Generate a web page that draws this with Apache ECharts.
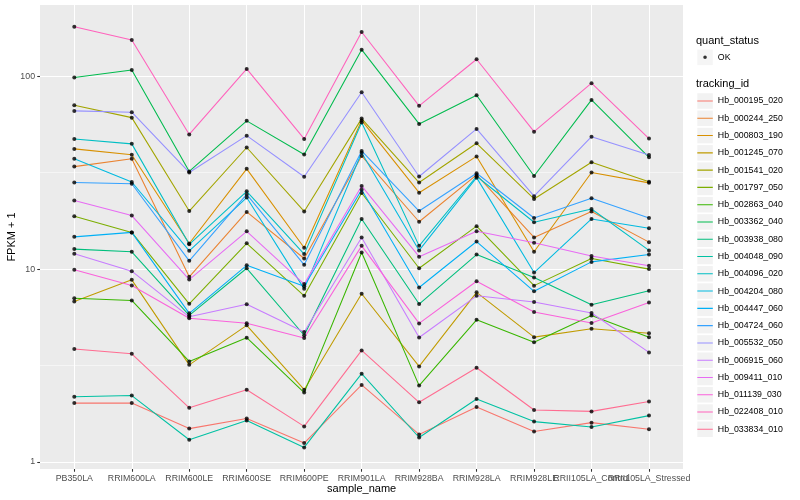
<!DOCTYPE html>
<html>
<head>
<meta charset="utf-8">
<script src="https://cdn.jsdelivr.net/npm/echarts@6/dist/echarts.min.js"></script>
<style>html,body{margin:0;padding:0;background:#fff}#c{width:800px;height:500px}</style>
</head>
<body>
<div id="c"></div>
<script>
// ---- data (FPKM + 1) ----
const sampleNames = ['PB350LA','RRIM600LA','RRIM600LE','RRIM600SE','RRIM600PE','RRIM901LA','RRIM928BA','RRIM928LA','RRIM928LE','RRII105LA_Control','RRII105LA_Stressed'];
const trackingIds = ['Hb_000195_020','Hb_000244_250','Hb_000803_190','Hb_001245_070','Hb_001541_020','Hb_001797_050','Hb_002863_040','Hb_003362_040','Hb_003938_080','Hb_004048_090','Hb_004096_020','Hb_004204_080','Hb_004447_060','Hb_004724_060','Hb_005532_050','Hb_006915_060','Hb_009411_010','Hb_011139_030','Hb_022408_010','Hb_033834_010'];
const lineColors = ['#F8766D','#EA8331','#D89000','#C09B00','#A3A500','#7CAE00','#39B600','#00BB4E','#00BF7D','#00C1A3','#00BFC4','#00BAE0','#00B0F6','#35A2FF','#9590FF','#C77CFF','#E76BF3','#FA62DB','#FF62BC','#FF6C91'];
const hb_000195_020 = [2.02, 2.02, 1.49, 1.68, 1.254, 2.51, 1.39, 1.93, 1.44, 1.60, 1.48];
const hb_000244_250 = [34.0, 37.3, 9.12, 19.8, 11.35, 38.6, 17.6, 30.8, 14.6, 19.9, 13.8];
const hb_000803_190 = [42.0, 39.2, 13.57, 33.1, 12.9, 59.0, 24.9, 38.4, 12.3, 31.7, 28.0];
const hb_001245_070 = [6.8, 8.8, 3.19, 5.11, 2.37, 7.45, 3.13, 7.58, 4.44, 4.91, 4.65];
const hb_001541_020 = [70.7, 61.0, 20.0, 42.7, 19.9, 60.3, 28.1, 44.9, 23.1, 35.8, 28.4];
const hb_001797_050 = [18.8, 15.5, 6.61, 13.6, 7.27, 24.8, 10.1, 16.7, 8.21, 11.35, 10.0];
const hb_002863_040 = [7.07, 6.88, 3.32, 4.41, 2.29, 12.2, 2.49, 5.46, 4.18, 5.75, 4.43];
const hb_003362_040 = [98.4, 107.8, 32.1, 58.7, 39.3, 137.3, 56.6, 79.7, 30.4, 75.4, 38.0];
const hb_003938_080 = [12.7, 12.3, 5.76, 10.1, 4.54, 18.2, 6.59, 11.9, 9.05, 6.53, 7.72];
const hb_004048_090 = [2.18, 2.21, 1.305, 1.64, 1.19, 2.87, 1.34, 2.12, 1.62, 1.52, 1.74];
const hb_004096_020 = [47.3, 44.6, 13.44, 25.3, 11.96, 57.5, 13.2, 30.3, 17.5, 20.5, 12.5];
const hb_004204_080 = [37.3, 28.3, 12.44, 23.5, 7.9, 40.1, 12.5, 29.8, 9.6, 18.2, 16.3];
const hb_004447_060 = [14.7, 15.5, 5.90, 10.46, 8.15, 25.8, 8.03, 13.9, 7.67, 10.9, 11.9];
const hb_004724_060 = [28.1, 27.7, 11.04, 24.4, 10.53, 41.0, 20.0, 31.4, 18.4, 23.3, 18.4];
const hb_005532_050 = [66.1, 65.1, 31.7, 49.2, 30.1, 82.6, 30.2, 53.3, 23.9, 48.6, 39.1];
const hb_006915_060 = [12.0, 9.76, 5.66, 6.57, 4.72, 14.6, 4.42, 7.27, 6.75, 5.92, 3.70];
const hb_009411_010 = [22.7, 18.95, 8.83, 15.7, 8.36, 27.0, 11.6, 15.7, 13.7, 11.7, 10.4];
const hb_011139_030 = [9.92, 8.22, 5.56, 5.24, 4.39, 13.2, 5.23, 8.65, 5.99, 5.25, 6.71];
const hb_022408_010 = [180.7, 154.2, 49.9, 109.1, 47.3, 169.6, 70.2, 122.5, 51.6, 92.0, 47.5];
const hb_033834_010 = [3.85, 3.64, 1.91, 2.37, 1.53, 3.79, 2.04, 3.08, 1.86, 1.83, 2.06];
const fpkmPlusOne = [hb_000195_020, hb_000244_250, hb_000803_190, hb_001245_070, hb_001541_020,
  hb_001797_050, hb_002863_040, hb_003362_040, hb_003938_080, hb_004048_090, hb_004096_020,
  hb_004204_080, hb_004447_060, hb_004724_060, hb_005532_050, hb_006915_060, hb_009411_010,
  hb_011139_030, hb_022408_010, hb_033834_010];
const yTickValues = [1, 10, 100];
const yTickLabels = ['1', '10', '100'];

// ---- styling ----
const FONT = '"Liberation Sans", Arial, Helvetica, sans-serif';
const yMin = 0.92, yMax = 234;
const keySize = 15.5, keyGap = 1.78, keyLeft = 697.3;
const lineIcon = 'path://M0,0h0.01v0.01h-0.01zM15.49,15.49h0.01v0.01h-0.01zM0,7.215h15.5v1.07h-15.5z';
const dotIcon = 'path://M0,0h0.01v0.01h-0.01zM15.49,15.49h0.01v0.01h-0.01zM9.55,7.75A1.8,1.8,0,1,1,5.95,7.75A1.8,1.8,0,1,1,9.55,7.75z';

const chart = echarts.init(document.getElementById('c'), null, {renderer: 'canvas'});

const lineSeries = trackingIds.map((id, i) => ({
  type: 'line', name: id, xAxisIndex: 1, yAxisIndex: 2,
  data: fpkmPlusOne[i], showSymbol: false, symbol: 'none',
  lineStyle: {width: 1.07, color: lineColors[i]},
  itemStyle: {color: lineColors[i]},
  emphasis: {disabled: true}, z: 2
}));
const pointData = [];
fpkmPlusOne.forEach(vals => vals.forEach((v, j) => pointData.push([j, v])));

const legendText = {fontSize: 8.8, color: '#000', fontFamily: FONT};
const legendBase = {orient: 'vertical', left: keyLeft, padding: 0, itemWidth: keySize, itemHeight: keySize, itemGap: keyGap};

const option = {
  animation: false,
  backgroundColor: '#fff',
  textStyle: {fontFamily: FONT},
  grid: [
    {left: 40, right: 117, top: 5, bottom: 31, show: true, backgroundColor: '#EBEBEB', borderWidth: 0, containLabel: false, outerBoundsMode: 'none'},
    {left: 74.3, right: 151, top: 5, bottom: 31, containLabel: false, outerBoundsMode: 'none'}
  ],
  xAxis: [
    {gridIndex: 0, type: 'value', min: 0, max: 1, show: false},
    {gridIndex: 1, type: 'category', data: sampleNames, boundaryGap: false,
     axisLine: {show: false},
     axisTick: {show: true, length: 2.75, lineStyle: {color: '#333333', width: 1.07}},
     axisLabel: {interval: 0, fontSize: 8.8, color: '#4D4D4D', margin: 4.95, fontFamily: FONT, hideOverlap: false},
     splitLine: {show: true, lineStyle: {color: '#FFFFFF', width: 1.07}},
     name: 'sample_name', nameLocation: 'middle', nameGap: 14, nameMoveOverlap: false,
     nameTextStyle: {fontSize: 11, color: '#000', fontFamily: FONT}}
  ],
  yAxis: [
    {gridIndex: 0, type: 'log', logBase: 10, min: yMin, max: yMax,
     axisLine: {show: false},
     axisTick: {show: true, length: 2.75, lineStyle: {color: '#333333', width: 1.07}},
     axisLabel: {fontSize: 8.8, color: '#4D4D4D', margin: 4.95, fontFamily: FONT,
       showMinLabel: false, showMaxLabel: false,
       formatter: v => { const k = yTickValues.findIndex(t => Math.abs(t - v) / t < 1e-6); return k >= 0 ? yTickLabels[k] : ''; }},
     splitLine: {show: true, showMinLine: false, showMaxLine: false, lineStyle: {color: '#FFFFFF', width: 1.07}},
     name: 'FPKM + 1', nameLocation: 'middle', nameGap: 23, nameRotate: 90, nameMoveOverlap: false,
     nameTextStyle: {fontSize: 11, color: '#000', fontFamily: FONT}},
    {gridIndex: 0, type: 'log', logBase: Math.sqrt(10), min: yMin, max: yMax, position: 'left',
     axisLine: {show: false}, axisTick: {show: false}, axisLabel: {show: false},
     splitLine: {show: true, showMinLine: false, showMaxLine: false, lineStyle: {color: '#FFFFFF', width: 0.53}}},
    {gridIndex: 1, type: 'log', logBase: 10, min: yMin, max: yMax, show: false}
  ],
  legend: [
    Object.assign({id: 'okBg', data: ['OK'], top: 57.3 - keySize / 2, icon: 'rect',
      itemStyle: {color: '#F2F2F2', borderWidth: 0}, textStyle: legendText, selectedMode: false}, legendBase),
    Object.assign({id: 'okFg', data: ['OK'], top: 57.3 - keySize / 2, icon: dotIcon, z: 5,
      itemStyle: {color: '#000', borderWidth: 0}, textStyle: {fontSize: 8.8, color: 'rgba(0,0,0,0)', fontFamily: FONT}, selectedMode: false}, legendBase),
    Object.assign({id: 'trBg', data: trackingIds, top: 101 - keySize / 2, icon: 'rect',
      itemStyle: {color: '#F2F2F2', borderWidth: 0}, textStyle: legendText, selectedMode: false}, legendBase),
    Object.assign({id: 'trFg', data: trackingIds.map((id, i) => ({name: id, itemStyle: {color: lineColors[i], borderWidth: 0}})),
      top: 101 - keySize / 2, icon: lineIcon, z: 5,
      itemStyle: {borderWidth: 0}, textStyle: {fontSize: 8.8, color: 'rgba(0,0,0,0)', fontFamily: FONT}, selectedMode: false}, legendBase)
  ],
  graphic: [
    {type: 'text', x: 696, y: 40.7, style: {text: 'quant_status', fontSize: 11, fill: '#000', fontFamily: FONT, verticalAlign: 'middle'}},
    {type: 'text', x: 696, y: 84.3, style: {text: 'tracking_id', fontSize: 11, fill: '#000', fontFamily: FONT, verticalAlign: 'middle'}}
  ],
  series: lineSeries.concat([{
    type: 'scatter', name: 'OK', xAxisIndex: 1, yAxisIndex: 2, data: pointData,
    symbol: 'circle', symbolSize: 4, itemStyle: {color: '#000'}, emphasis: {disabled: true}, z: 3
  }])
};
chart.setOption(option);
</script>
</body>
</html>
